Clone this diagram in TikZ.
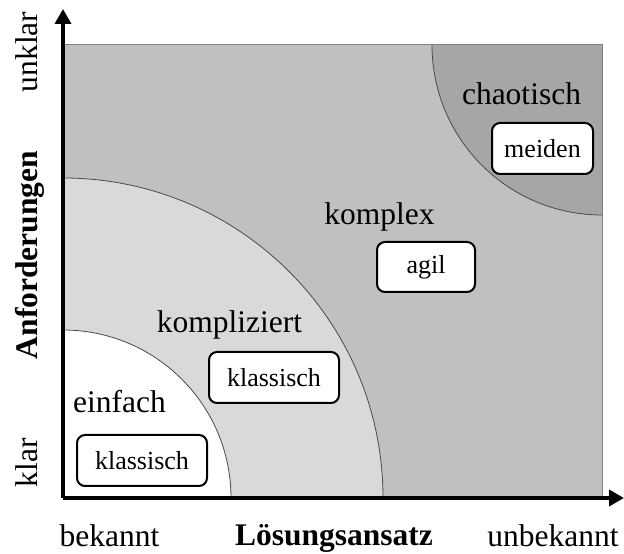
\documentclass[tikz,border=0pt]{standalone}
\usepackage{fontspec}
\setmainfont{Liberation Serif}
\usetikzlibrary{arrows.meta}

\definecolor{zoneComplex}{HTML}{C0C0C0}
\definecolor{zoneComplicated}{HTML}{D9D9D9}
\definecolor{zoneChaotic}{HTML}{A6A6A6}
\definecolor{zoneEdge}{HTML}{4A4A4A}
\definecolor{frameEdge}{HTML}{808080}

\tikzset{
  zonelabel/.style={anchor=base, inner sep=0pt, font=\fontsize{31.5}{36}\selectfont},
  axislabel/.style={anchor=base, inner sep=0pt, font=\fontsize{31.5}{36}\selectfont},
  axistitle/.style={anchor=base, inner sep=0pt, font=\fontsize{31.5}{36}\selectfont\bfseries},
  methodbox/.style={draw=black, line width=2pt, fill=white, rounded corners=8pt,
    minimum height=51pt, inner sep=0pt, font=\fontsize{26}{30}\selectfont},
  zoneline/.style={draw=zoneEdge, line width=0.8pt},
  axisarrow/.style={line width=3.5pt, -{Triangle[length=15pt,width=16pt]}}
}

\begin{document}
\begin{tikzpicture}[x=1pt,y=1pt]
  \useasboundingbox (0,0) rectangle (624,554);

  % key points of the field
  \coordinate (origin) at (63,56);
  \coordinate (corner) at (602,509);
  \coordinate (ytip) at (63,545);
  \coordinate (xtip) at (624,56);

  % background: complex zone
  \fill[zoneComplex] (origin) rectangle (corner);

  % complicated zone
  \fill[zoneComplicated] (origin) -- ++(320,0) arc[start angle=0, end angle=90, radius=320pt] -- cycle;
  \draw[zoneline] (origin) ++(320,0) arc[start angle=0, end angle=90, radius=320pt];

  % simple zone
  \fill[white] (origin) -- ++(168,0) arc[start angle=0, end angle=90, radius=168pt] -- cycle;
  \draw[zoneline] (origin) ++(168,0) arc[start angle=0, end angle=90, radius=168pt];

  % chaotic zone
  \fill[zoneChaotic] (corner) -- ++(-170,0) arc[start angle=180, end angle=270, radius=170pt] -- cycle;
  \draw[zoneline] (corner) ++(-170,0) arc[start angle=180, end angle=270, radius=170pt];

  % frame
  \draw[frameEdge, line width=1pt] (origin) rectangle (corner);

  % axes
  \draw[axisarrow] (origin) -- (ytip);
  \draw[axisarrow] (origin) -- (xtip);

  % zone names
  \node[zonelabel] (einfach) at (119.5,141) {einfach};
  \node[zonelabel] (kompliziert) at (229.5,221) {kompliziert};
  \node[zonelabel] (komplex) at (379.5,329) {komplex};
  \node[zonelabel] (chaotisch) at (521.5,449) {chaotisch};

  % recommended approach
  \node[methodbox, minimum width=130pt] (boxEinfach) at (142,93.5) {klassisch};
  \node[methodbox, minimum width=130pt] (boxKompliziert) at (274,176.5) {klassisch};
  \node[methodbox, minimum width=98pt, minimum height=50pt] (boxKomplex) at (426,287) {agil};
  \node[methodbox, minimum width=101pt] (boxChaotisch) at (542.5,405.5) {meiden};

  % axis labels
  \node[axislabel] (bekannt) at (109.5,7.5) {bekannt};
  \node[axistitle] (loesung) at (334,8) {Lösungsansatz};
  \node[axislabel] (unbekannt) at (553,7.5) {unbekannt};
  \node[axislabel, rotate=90] (klar) at (37,91) {klar};
  \node[axistitle, rotate=90] (anf) at (37.5,299) {Anforderungen};
  \node[axislabel, rotate=90] (unklar) at (37,502) {unklar};
\end{tikzpicture}
\end{document}
